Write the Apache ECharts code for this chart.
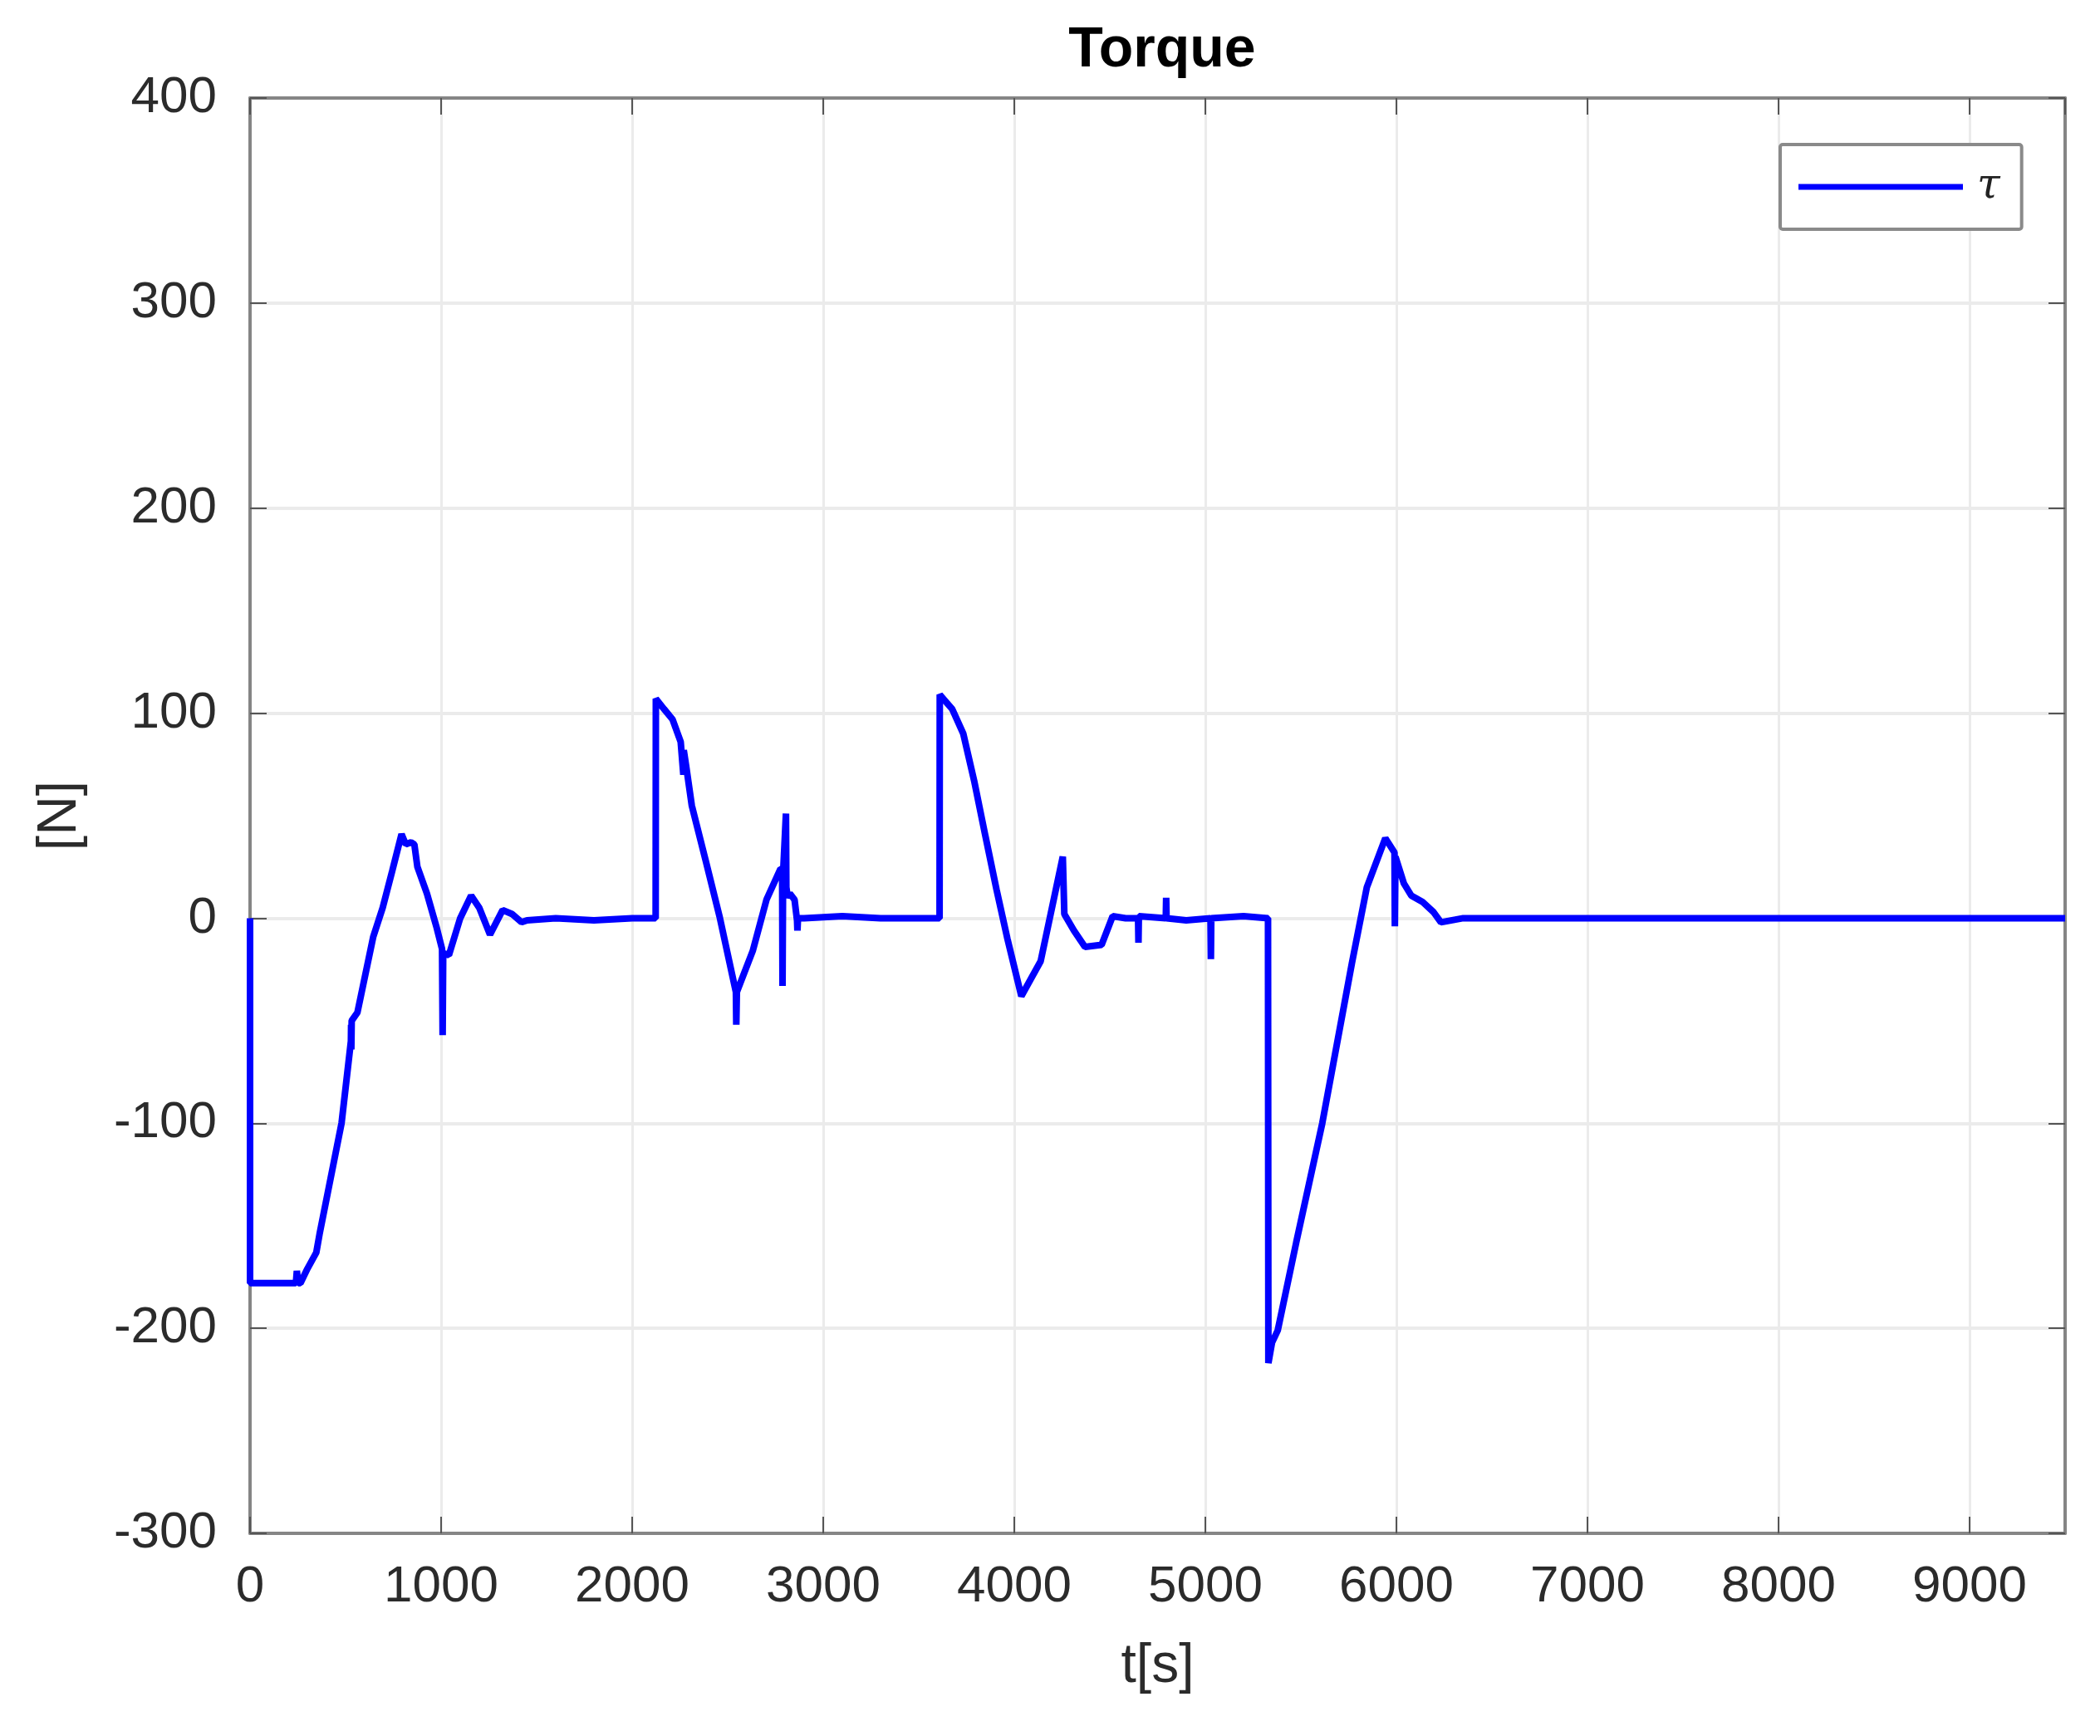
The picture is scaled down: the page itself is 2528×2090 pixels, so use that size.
<!DOCTYPE html>
<html>
<head>
<meta charset="utf-8">
<title>Torque</title>
<script src="https://cdn.jsdelivr.net/npm/echarts@6/dist/echarts.min.js"></script>
<style>
  html, body { margin: 0; padding: 0; background: #fff; }
  #chart { width: 2528px; height: 2090px; }
</style>
</head>
<body>
<div id="chart"></div>
<script>
// values
var timeValues = [
  0, 0, 120, 240, 245, 252, 264, 300, 347, 364, 479, 528, 529, 530, 532, 562, 645, 694, 744, 793,
  815, 843, 860, 876, 926, 975, 1005, 1008, 1011, 1041, 1100, 1157, 1200, 1256, 1322, 1372, 1421, 1450,
  1600, 1800, 2000, 2123, 2124, 2167, 2211, 2254, 2268, 2270, 2283, 2312, 2385, 2457, 2543, 2545,
  2548, 2631, 2703, 2776, 2785, 2787, 2790, 2805, 2807, 2815, 2825, 2850, 2863, 2865, 2868, 2900,
  3100, 3300, 3609, 3610, 3675, 3733, 3790, 3849, 3907, 3964, 4037, 4138, 4254, 4262, 4312, 4370,
  4457, 4515, 4583, 4648, 4650, 4652, 4793, 4795, 4797, 4900, 5027, 5029, 5031, 5200, 5328, 5330,
  5349, 5379, 5476, 5612, 5767, 5845, 5942, 5990, 5992, 5995, 6039, 6078, 6136, 6194, 6233, 6350,
  6600, 7000, 8000, 9000, 9500
]
var torqueValues = [
  0, -178, -178, -178, -172, -178, -178, -171, -163, -154, -100, -60, -52, -64, -50, -46, -9, 5, 23, 41,
  36, 37, 36, 25, 12, -4, -15, -57, -17, -18, 0, 11, 5, -8, 4, 2, -2, -1,
  0, -1, 0, 0, 107, 102, 97, 86, 70, 82, 74, 55, 28, 1, -36, -52,
  -36, -16, 9, 24, 24, -33, 22, 51, 15, 10, 12, 9, -1, -6, 0, 0,
  1, 0, 0, 109, 102, 90, 67, 40, 14, -10, -38, -21, 30, 2, -6, -14,
  -13, 1, 0, 0, -12, 1, 0, 10, 0, -1, 0, -20, 0, 1, 0, -217,
  -207, -201, -158, -100, -22, 15, 39, 32, -4, 30, 17, 11, 8, 3, -2, 0,
  0, 0, 0, 0, 0
]
var xTicks = [0, 1000, 2000, 3000, 4000, 5000, 6000, 7000, 8000, 9000]
var yTicks = [-300, -200, -100, 0, 100, 200, 300, 400]

var AXIS_COLOR = '#858585'
var GRID_COLOR = '#ebebeb'
var LABEL_COLOR = '#2b2b2b'
var FONT = '"Liberation Sans", Arial, sans-serif'
var LINE_BLUE = '#0000ff'

var points = timeValues.map(function (t, i) { return [t, torqueValues[i]] })

function boxAxis(extra) {
  var base = {
    type: 'value',
    axisLine: { show: true, onZero: false, lineStyle: { color: AXIS_COLOR, width: 4 } },
    axisTick: { show: true, inside: true, length: 20, lineStyle: { color: '#555', width: 2 } },
    axisLabel: { show: false },
    splitLine: { show: false }
  }
  return Object.assign(base, extra)
}

var chart = echarts.init(document.getElementById('chart'))
chart.setOption({
  animation: false,
  backgroundColor: '#ffffff',
  title: {
    text: 'Torque',
    left: 1394,
    top: 22,
    textAlign: 'center',
    textStyle: { fontFamily: FONT, fontWeight: 'bold', fontSize: 68, color: '#000' }
  },
  legend: {
    left: 2143,
    top: 174,
    padding: [26, 26, 26, 22],
    icon: 'rect',
    itemWidth: 198,
    itemHeight: 7,
    backgroundColor: '#fff',
    borderColor: '#8a8a8a',
    borderWidth: 4,
    borderRadius: 3,
    textStyle: {
      fontFamily: '"DejaVu Serif", "Liberation Serif", serif',
      fontStyle: 'italic',
      fontSize: 50,
      color: '#222',
      padding: [0, 0, 0, 12]
    },
    data: ['τ']
  },
  grid: { left: 301, right: 42, top: 118, bottom: 244 },
  xAxis: [
    boxAxis({
      position: 'bottom',
      min: xTicks[0],
      max: 9500,
      interval: 1000,
      name: 't[s]',
      nameLocation: 'middle',
      nameGap: 128,
      nameTextStyle: { fontFamily: FONT, fontSize: 66, color: LABEL_COLOR },
      axisLabel: {
        show: true,
        margin: 34,
        showMaxLabel: false,
        fontFamily: FONT,
        fontSize: 62,
        color: LABEL_COLOR,
        formatter: function (v) { return String(v) }
      },
      splitLine: { show: true, lineStyle: { color: GRID_COLOR, width: 3 } }
    }),
    boxAxis({ position: 'top', min: xTicks[0], max: 9500, interval: 1000 })
  ],
  yAxis: [
    boxAxis({
      position: 'left',
      min: yTicks[0],
      max: yTicks[yTicks.length - 1],
      interval: 100,
      name: '[N]',
      nameLocation: 'middle',
      nameRotate: 90,
      nameGap: 195,
      nameTextStyle: { fontFamily: FONT, fontSize: 66, color: LABEL_COLOR },
      axisLabel: {
        show: true,
        margin: 40,
        fontFamily: FONT,
        fontSize: 62,
        color: LABEL_COLOR,
        formatter: function (v) { return String(v) }
      },
      splitLine: { show: true, lineStyle: { color: GRID_COLOR, width: 4 } }
    }),
    boxAxis({ position: 'right', min: yTicks[0], max: yTicks[yTicks.length - 1], interval: 100 })
  ],
  series: [
    {
      name: 'τ',
      type: 'line',
      xAxisIndex: 0,
      yAxisIndex: 0,
      symbol: 'none',
      data: points,
      lineStyle: { color: LINE_BLUE, width: 8 },
      itemStyle: { color: LINE_BLUE }
    }
  ]
})
</script>
</body>
</html>
